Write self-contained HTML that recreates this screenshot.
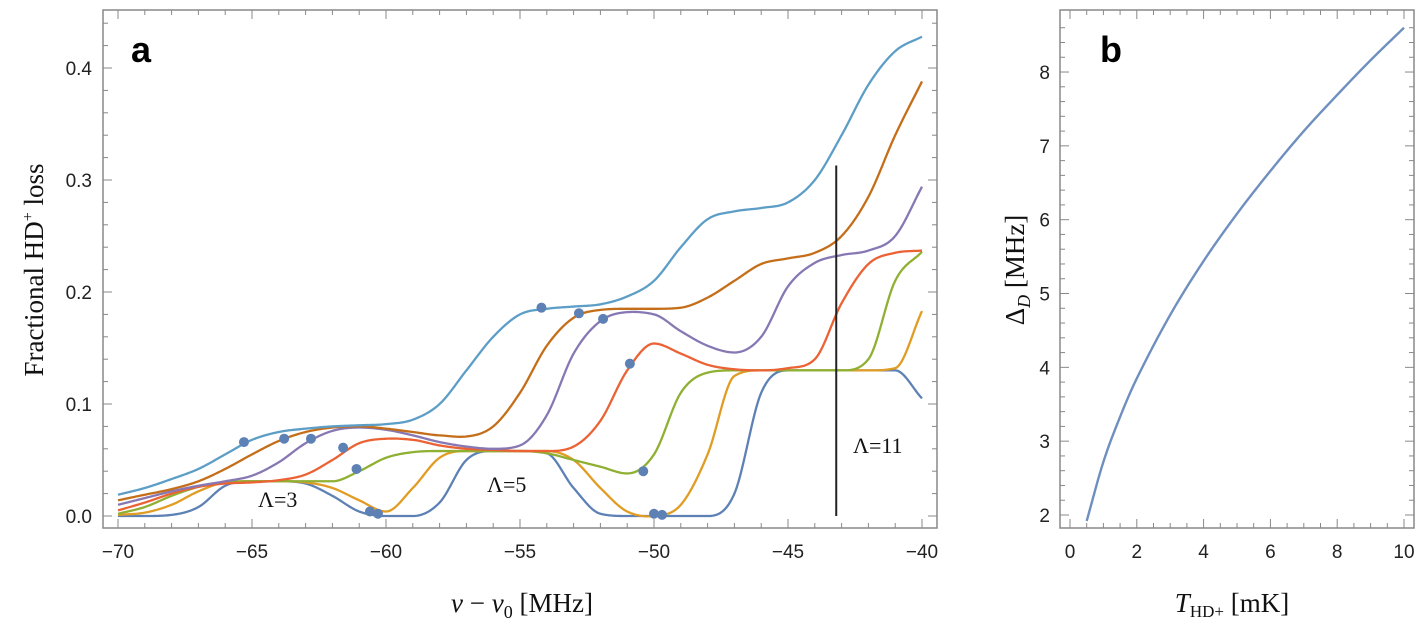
<!DOCTYPE html>
<html><head><meta charset="utf-8"><style>
body{margin:0;background:#fff;}
svg{display:block;}
.tick{font-family:"Liberation Sans",sans-serif;font-size:19px;fill:#222;}
.ttl{font-family:"Liberation Serif",serif;font-size:27px;fill:#111;}
.ann{font-family:"Liberation Serif",serif;font-size:22px;fill:#111;}
.lbl{font-family:"Liberation Sans",sans-serif;font-size:36px;font-weight:bold;fill:#000;}
</style></head><body>
<svg id="fig" width="1417" height="638" viewBox="0 0 1417 638">
<rect x="103" y="10" width="834" height="518" fill="none" stroke="#888" stroke-width="1.5"/>
<rect x="1060" y="10" width="354" height="518" fill="none" stroke="#888" stroke-width="1.5"/>
<g id="ga"></g>
<g id="gb"></g>
<text class="lbl" x="131" y="62">a</text>
<text class="lbl" x="1100" y="62">b</text>
<text class="ann" x="258" y="507">Λ=3</text>
<text class="ann" x="487" y="492">Λ=5</text>
<text class="ann" x="853" y="453">Λ=11</text>
<text class="ttl" x="522" y="612" text-anchor="middle"><tspan font-style="italic">ν</tspan> − <tspan font-style="italic">ν</tspan><tspan font-size="18" dy="6">0</tspan><tspan dy="-6"> [MHz]</tspan></text>
<text class="ttl" transform="translate(43,270) rotate(-90)" text-anchor="middle">Fractional HD<tspan font-size="16" dy="-10">+</tspan><tspan dy="10"> loss</tspan></text>
<text class="ttl" x="1232" y="612" text-anchor="middle"><tspan font-style="italic">T</tspan><tspan font-size="17" dy="5">HD+</tspan><tspan dy="-5"> [mK]</tspan></text>
<text class="ttl" transform="translate(1024,270) rotate(-90)" text-anchor="middle">Δ<tspan font-size="18" font-style="italic" dy="6">D</tspan><tspan dy="-6"> [MHz]</tspan></text>
</svg>
<script>
const freqs=[-70,-69,-68,-67,-66,-65,-64,-63,-62,-61,-60,-59,-58,-57,-56,-55,-54,-53,-52,-51,-50,-49,-48,-47,-46,-45,-44,-43,-42,-41,-40];
const sBlue=[0,0,0.001,0.008,0.027,0.031,0.031,0.029,0.018,0.004,0,0,0.012,0.05,0.058,0.058,0.056,0.025,0.002,0,0,0,0,0.02,0.11,0.13,0.13,0.13,0.13,0.13,0.105];
const sOrange=[0.001,0.003,0.01,0.022,0.03,0.031,0.031,0.03,0.025,0.014,0.004,0.025,0.052,0.058,0.058,0.058,0.058,0.05,0.025,0.004,0,0.01,0.055,0.125,0.13,0.13,0.13,0.13,0.13,0.132,0.183];
const sGreen=[0.002,0.008,0.018,0.026,0.03,0.031,0.031,0.031,0.031,0.04,0.052,0.057,0.058,0.058,0.058,0.058,0.056,0.05,0.044,0.038,0.055,0.11,0.128,0.13,0.13,0.13,0.13,0.13,0.14,0.21,0.236];
const sRed=[0.005,0.012,0.02,0.026,0.029,0.03,0.032,0.037,0.05,0.065,0.069,0.068,0.063,0.06,0.059,0.058,0.058,0.062,0.085,0.13,0.154,0.145,0.135,0.131,0.13,0.132,0.14,0.19,0.225,0.235,0.237];
const sPurple=[0.01,0.016,0.022,0.027,0.031,0.036,0.048,0.065,0.076,0.079,0.077,0.072,0.066,0.062,0.06,0.063,0.09,0.145,0.174,0.182,0.18,0.165,0.152,0.146,0.16,0.205,0.226,0.233,0.237,0.25,0.294];
const sDarkOrange=[0.014,0.019,0.024,0.031,0.042,0.055,0.067,0.075,0.079,0.08,0.078,0.075,0.072,0.071,0.08,0.11,0.152,0.177,0.184,0.185,0.185,0.186,0.195,0.21,0.225,0.23,0.235,0.25,0.285,0.34,0.388];
const sLightBlue=[0.019,0.025,0.033,0.042,0.055,0.068,0.075,0.078,0.08,0.081,0.082,0.086,0.1,0.13,0.16,0.18,0.185,0.187,0.189,0.196,0.21,0.24,0.265,0.272,0.275,0.28,0.3,0.34,0.385,0.415,0.428];
const dotsV=[-65.3,-54.2,-63.8,-52.8,-62.8,-51.9,-61.6,-50.9,-61.1,-50.4,-60.6,-50,-60.3,-49.7];
const dotsY=[0.066,0.186,0.069,0.181,0.069,0.176,0.061,0.136,0.042,0.04,0.004,0.002,0.002,0.001];
const xTicksA=[-70,-65,-60,-55,-50,-45,-40];
const yTicksA=[0,0.1,0.2,0.3,0.4];
const tempsB=[0.5,1,1.5,2,3,4,5,6,7,8,9,10];
const deltaB=[1.92,2.72,3.33,3.85,4.71,5.44,6.08,6.66,7.2,7.69,8.16,8.6];
const xTicksB=[0,2,4,6,8,10];
const yTicksB=[2,3,4,5,6,7,8];
const markerV=-43.2, markerTop=0.313;

const NS="http://www.w3.org/2000/svg";
const xa=v=>118+(v+70)*26.8, ya=q=>516-q*1120;
const xb=t=>1070+t*33.4, yb=d=>515-(d-2)*73.83;
function mk(tag,attrs,parent){const e=document.createElementNS(NS,tag);for(const k in attrs)e.setAttribute(k,attrs[k]);parent.appendChild(e);return e;}
function smooth(xs,ys){const n=xs.length,d=[],m=[];
 for(let i=0;i<n-1;i++)d.push((ys[i+1]-ys[i])/(xs[i+1]-xs[i]));
 m[0]=d[0];m[n-1]=d[n-2];
 for(let i=1;i<n-1;i++){m[i]=(ys[i+1]-ys[i-1])/(xs[i+1]-xs[i-1]);}
 for(let i=0;i<n-1;i++){if(Math.abs(d[i])<1e-9){m[i]=0;m[i+1]=0;continue;}
  const a=m[i]/d[i],b=m[i+1]/d[i];
  if(a<0)m[i]=0; if(b<0)m[i+1]=0;
  const s=a*a+b*b;if(s>9){const t=3/Math.sqrt(s);m[i]=t*a*d[i];m[i+1]=t*b*d[i];}}
 return x=>{let i=0;while(i<n-2&&x>xs[i+1])i++;const h=xs[i+1]-xs[i],t=(x-xs[i])/h,t2=t*t,t3=t2*t;return (2*t3-3*t2+1)*ys[i]+(t3-2*t2+t)*h*m[i]+(-2*t3+3*t2)*ys[i+1]+(t3-t2)*h*m[i+1];};}
function path(xs,ys,fx,fy){const f=smooth(xs,ys);let s="";const a=xs[0],b=xs[xs.length-1];for(let k=0;k<=600;k++){const x=a+(b-a)*k/600;s+=(k?"L":"M")+fx(x).toFixed(2)+","+fy(f(x)).toFixed(2);}return s;}
const ga=document.getElementById('ga'),gb=document.getElementById('gb');
for(let v=-70;v<=-40;v++){const maj=v%5===0,L=maj?9:5;
 mk('line',{x1:xa(v),x2:xa(v),y1:528,y2:528-L,stroke:'#888','stroke-width':1},ga);
 mk('line',{x1:xa(v),x2:xa(v),y1:10,y2:10+L,stroke:'#888','stroke-width':1},ga);}
for(let k=0;k<=22;k++){const q=k*0.02,maj=k%5===0,L=maj?9:5;
 mk('line',{x1:103,x2:103+L,y1:ya(q),y2:ya(q),stroke:'#888','stroke-width':1},ga);
 mk('line',{x1:937,x2:937-L,y1:ya(q),y2:ya(q),stroke:'#888','stroke-width':1},ga);}
xTicksA.forEach(v=>{const t=mk('text',{class:'tick',x:xa(v),y:558,'text-anchor':'middle'},ga);t.textContent=(v<0?'−':'')+Math.abs(v);
 
 });
yTicksA.forEach(q=>{const t=mk('text',{class:'tick',x:92,y:ya(q)+7,'text-anchor':'end'},ga);t.textContent=q.toFixed(1);
 
 });
const series=[[sBlue,'#5E81B5','blue'],[sOrange,'#E19C24','orange'],[sGreen,'#8FB032','green'],[sRed,'#EB6235','red'],[sPurple,'#8778B3','purple'],[sDarkOrange,'#C56E1A','dark-orange'],[sLightBlue,'#5D9EC7','light-blue']];
series.forEach(([s,c,n])=>{const p=mk('path',{d:path(freqs,s,xa,ya),fill:'none',stroke:c,'stroke-width':2.3,'stroke-linejoin':'round'},ga);
 
 });
const ml=mk('line',{x1:xa(markerV),x2:xa(markerV),y1:ya(markerTop),y2:ya(0),stroke:'#222','stroke-width':2},ga);


dotsV.forEach((v,i)=>{const c=mk('circle',{cx:xa(v),cy:ya(dotsY[i]),r:5,fill:'#5E81B5'},ga);
 
 });
for(let k=0;k<=20;k++){const t=k*0.5,maj=k%4===0,L=maj?9:5;
 mk('line',{x1:xb(t),x2:xb(t),y1:528,y2:528-L,stroke:'#888','stroke-width':1},gb);
 mk('line',{x1:xb(t),x2:xb(t),y1:10,y2:10+L,stroke:'#888','stroke-width':1},gb);}
for(let k=9;k<=43;k++){const d=k*0.2,maj=k%5===0,L=maj?9:5;const y=yb(d);if(y<10||y>528)continue;
 mk('line',{x1:1060,x2:1060+L,y1:y,y2:y,stroke:'#888','stroke-width':1},gb);
 mk('line',{x1:1414,x2:1414-L,y1:y,y2:y,stroke:'#888','stroke-width':1},gb);}
xTicksB.forEach(v=>{const t=mk('text',{class:'tick',x:xb(v),y:558,'text-anchor':'middle'},gb);t.textContent=v;
 
 });
yTicksB.forEach(v=>{const t=mk('text',{class:'tick',x:1050,y:yb(v)+7,'text-anchor':'end'},gb);t.textContent=v;
 
 });
const pb=mk('path',{d:path(tempsB,deltaB,xb,yb),fill:'none',stroke:'#6F8FBF','stroke-width':2.4},gb);


</script>
</body></html>
